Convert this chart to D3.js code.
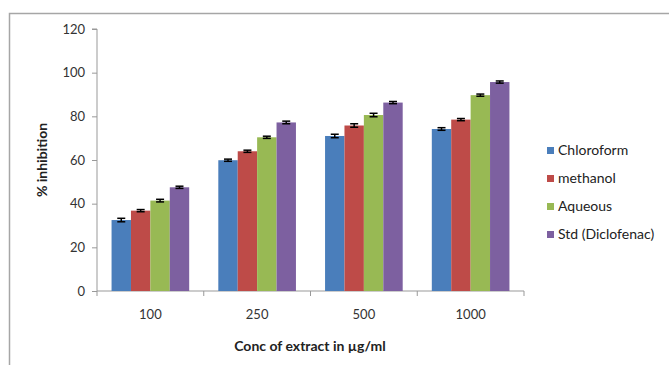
<!DOCTYPE html>
<html><head><meta charset="utf-8">
<script src="https://cdn.jsdelivr.net/npm/d3@7"></script>
<style>body{margin:0;background:#fff;} text{font-family:Lato,"Open Sans",sans-serif;}</style>
</head><body>
<svg id="c" width="669" height="365"></svg>
<script>
const categories = ["100","250","500","1000"];
const seriesNames = ["Chloroform","methanol","Aqueous","Std (Diclofenac)"];
const chloroform = [32.5, 59.9, 71.0, 74.2];
const methanol = [36.8, 64.0, 75.8, 78.5];
const aqueous = [41.4, 70.4, 80.6, 89.7];
const std = [47.5, 77.2, 86.3, 95.7];
const errChloroform = [0.8, 0.5, 0.8, 0.6];
const errMethanol = [0.5, 0.5, 0.8, 0.5];
const errAqueous = [0.6, 0.5, 0.8, 0.5];
const errStd = [0.5, 0.6, 0.5, 0.5];
const yTicks = [0,20,40,60,80,100,120];
const colors = ["#4a7ebb","#be4b48","#98b954","#7d60a0"];

const values = [chloroform, methanol, aqueous, std];
const errs = [errChloroform, errMethanol, errAqueous, errStd];

const svg = d3.select("#c");
svg.append("rect").attr("x",9.5).attr("y",13.5).attr("width",700).attr("height",400)
  .attr("fill","none").attr("stroke","#a6a6a6").attr("stroke-width",1.5);

const x0 = 97, x1 = 524, yTop = 29, yBot = 291;
const x = d3.scaleBand().domain(categories).range([x0,x1]).paddingInner(1.5/5.5).paddingOuter(0.75/5.5);
const xs = d3.scaleBand().domain(seriesNames).range([0,x.bandwidth()]);
const y = d3.scaleLinear().domain([0,120]).range([yBot,yTop]);

// axes
const yAxis = svg.append("g").attr("transform",`translate(${x0},0)`)
  .call(d3.axisLeft(y).tickValues(yTicks).tickSize(5).tickPadding(7));
yAxis.select(".domain").attr("stroke","#999").attr("d",`M-5,${yTop}H0V${yBot}`);
yAxis.selectAll(".tick line").attr("stroke","#999");
yAxis.selectAll("text").attr("font-size",13).attr("fill","#333");

const xb = d3.scaleBand().domain(categories).range([x0,x1]);
const xAxis = svg.append("g").attr("transform",`translate(0,${yBot})`)
  .call(d3.axisBottom(xb).tickSize(0).tickPadding(19));
xAxis.select(".domain").attr("stroke","#999").attr("d",`M${x0},0H${x1}`);
xAxis.selectAll("text").attr("font-size",13).attr("fill","#333");
svg.append("g").selectAll("line").data(d3.range(5)).join("line")
  .attr("x1",i=>x0+i*(x1-x0)/4).attr("x2",i=>x0+i*(x1-x0)/4)
  .attr("y1",yBot).attr("y2",yBot+5).attr("stroke","#999");

// bars
const g = svg.append("g");
seriesNames.forEach((s,si)=>{
  categories.forEach((c,ci)=>{
    const bx = x(c)+xs(s), v = values[si][ci], e = errs[si][ci];
    g.append("rect").attr("x",bx).attr("y",y(v)).attr("width",xs.bandwidth()).attr("height",yBot-y(v))
      .attr("fill",colors[si]);
    const cx = bx + xs.bandwidth()/2;
    g.append("line").attr("x1",cx).attr("x2",cx).attr("y1",y(v+e)).attr("y2",y(v-e)).attr("stroke","#000").attr("stroke-width",1.5);
    g.append("line").attr("x1",cx-4).attr("x2",cx+4).attr("y1",y(v+e)).attr("y2",y(v+e)).attr("stroke","#000").attr("stroke-width",1.5);
    g.append("line").attr("x1",cx-4).attr("x2",cx+4).attr("y1",y(v-e)).attr("y2",y(v-e)).attr("stroke","#000").attr("stroke-width",1.5);
  });
});

// axis titles
svg.append("text").attr("transform","translate(47,160) rotate(-90)").attr("text-anchor","middle")
  .attr("font-size",14).attr("font-weight","bold").attr("fill","#222").text("% inhibition");
svg.append("text").attr("x",310).attr("y",351).attr("text-anchor","middle")
  .attr("font-size",14).attr("font-weight","bold").attr("fill","#222").text("Conc of extract in µg/ml");

// legend
const leg = svg.append("g");
seriesNames.forEach((s,i)=>{
  const ly = 155 + i*28;
  leg.append("rect").attr("x",547).attr("y",ly-8).attr("width",7).attr("height",7).attr("fill",colors[i]);
  leg.append("text").attr("x",558).attr("y",ly).attr("font-size",14).attr("fill","#222").text(s);
});
</script>
</body></html>
